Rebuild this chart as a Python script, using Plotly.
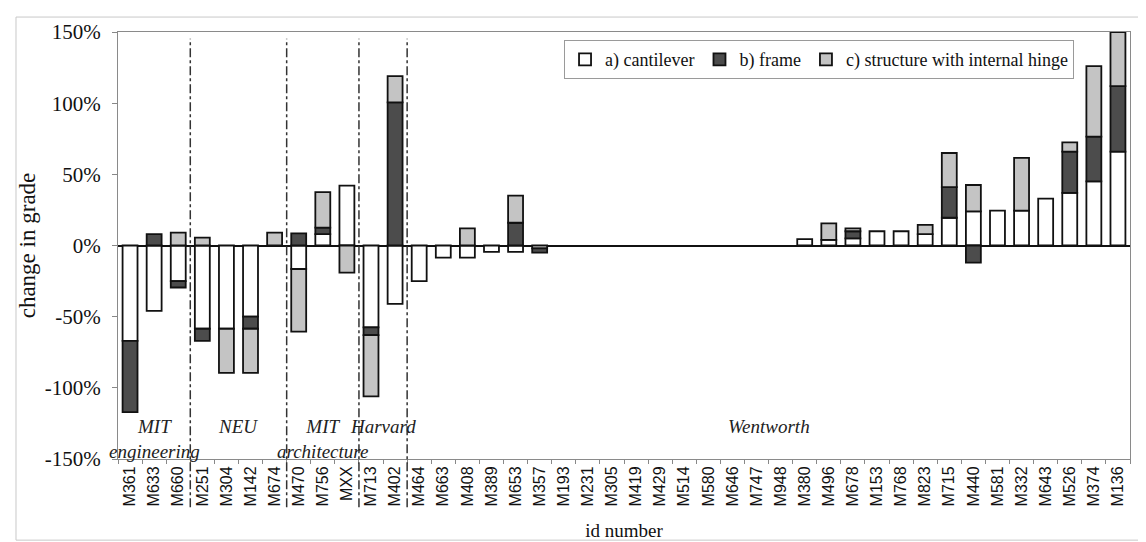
import plotly.graph_objects as go

# ---------------- data ----------------
ids = ["M361", "M633", "M660", "M251", "M304", "M142", "M674", "M470", "M756", "MXX",
       "M713", "M402", "M464", "M663", "M408", "M389", "M653", "M357", "M193", "M231",
       "M305", "M419", "M429", "M514", "M580", "M646", "M747", "M948", "M380", "M496",
       "M678", "M153", "M768", "M823", "M715", "M440", "M581", "M332", "M643", "M526",
       "M374", "M136"]

cantilever = [-67, -46, -25, -58.5, -58.5, -50, None, -16.5, 8, 42,
              -57.5, -41, -25, -8.5, -8.5, -4.5, -4.5, -2, None, None,
              None, None, None, None, None, None, None, None, 4.5, 4,
              5, 10, 10, 8, 19.5, 24, 24.5, 24.5, 33, 37,
              45, 66]

frame = [-50, 8, -4.5, -8.5, None, -8.5, None, 8.5, 4.5, None,
         -5.5, 100.5, None, None, None, None, 16, -3, None, None,
         None, None, None, None, None, None, None, None, None, None,
         5, None, None, None, 21.5, -12, None, None, None, 29,
         31.5, 46]

hinge = [None, None, 9, 5.5, -31, -31, 9, -44, 25, -19,
         -43, 18.5, None, None, 12, None, 19, None, None, None,
         None, None, None, None, None, None, None, None, None, 11.5,
         2, None, None, 6.5, 24, 18.5, None, 37, None, 6.5,
         49.5, 38]

series_names = ["a) cantilever", "b) frame", "c) structure with internal hinge"]

groups = ["MIT<br>engineering", "NEU", "MIT<br>architecture", "Harvard", "Wentworth"]
group_sizes = [3, 4, 3, 2, 30]

y_ticks = [-150, -100, -50, 0, 50, 100, 150]
y_ticktext = [f"{v}%" for v in y_ticks]

# ---------------- figure ----------------
SERIF = "Liberation Serif, Times New Roman, serif"
SANS_N = "Liberation Sans Narrow, Arial Narrow, Liberation Sans, Arial, sans-serif"

fills = ["#ffffff", "#4c4c4c", "#c4c4c4"]
fig = go.Figure()
for name, vals, col in zip(series_names, [cantilever, frame, hinge], fills):
    fig.add_trace(go.Bar(
        x=ids, y=vals, name=name,
        marker=dict(color=col, line=dict(color="#111111", width=1.8)),
    ))

# group separators and labels
shapes = []
annotations = []
start = 0
for gi, (g, n) in enumerate(zip(groups, group_sizes)):
    end = start + n
    mid = (start + end - 1) / 2
    text = "<i>" + g.replace("<br>", "</i><br><i>") + "</i>"
    annotations.append(dict(
        x=mid, y=0.106, xref="x", yref="paper", text=text, showarrow=False,
        xanchor="center", yanchor="top",
        font=dict(family=SERIF, size=19, color="#222222"),
    ))
    if gi < len(groups) - 1:
        shapes.append(dict(
            type="line", xref="x", yref="paper",
            x0=end - 0.5, x1=end - 0.5, y0=-0.113, y1=0.984,
            line=dict(color="#333333", width=1.5, dash="dashdot"),
        ))
    start = end

# outer frame
shapes.append(dict(type="rect", xref="paper", yref="paper",
                   x0=-0.1008, x1=1.0208, y0=-0.19, y1=1.035,
                   line=dict(color="#c8c8c8", width=1), fillcolor="rgba(0,0,0,0)",
                   layer="below"))

fig.update_layout(
    width=1146, height=542,
    margin=dict(l=110, r=24, t=24, b=86),
    paper_bgcolor="white", plot_bgcolor="white",
    barmode="relative", bargap=0.38,
    font=dict(family=SERIF, size=19, color="#111111"),
    showlegend=True,
    legend=dict(
        orientation="h", x=0.9447, y=0.981, xanchor="right", yanchor="top",
        bgcolor="white", bordercolor="#9a9a9a", borderwidth=1,
        font=dict(family=SERIF, size=18, color="#111111"),
        itemwidth=30, tracegroupgap=0,
    ),
    shapes=shapes,
    annotations=annotations,
)

fig.update_xaxes(
    type="category", range=[-0.5, len(ids) - 0.5],
    tickangle=-90, tickson="boundaries", ticks="outside", ticklen=4,
    tickcolor="#888888", showline=True, linecolor="#8a8a8a", linewidth=1,
    mirror=True, showgrid=False,
    tickfont=dict(family=SANS_N, size=16, color="#111111"),
    title=dict(text="id number", standoff=18,
               font=dict(family=SERIF, size=19, color="#111111")),
)

fig.update_yaxes(
    range=[-150, 150], tickvals=y_ticks, ticktext=y_ticktext,
    ticks="outside", ticklen=5, tickcolor="#888888", ticklabelstandoff=7,
    showline=True, linecolor="#8a8a8a", linewidth=1, mirror=True,
    showgrid=False, zeroline=True, zerolinecolor="#111111", zerolinewidth=1.6,
    tickfont=dict(family=SERIF, size=21, color="#111111"),
    title=dict(text="change in grade", standoff=2,
               font=dict(family=SERIF, size=23, color="#111111")),
)

fig.write_html("out.html")
